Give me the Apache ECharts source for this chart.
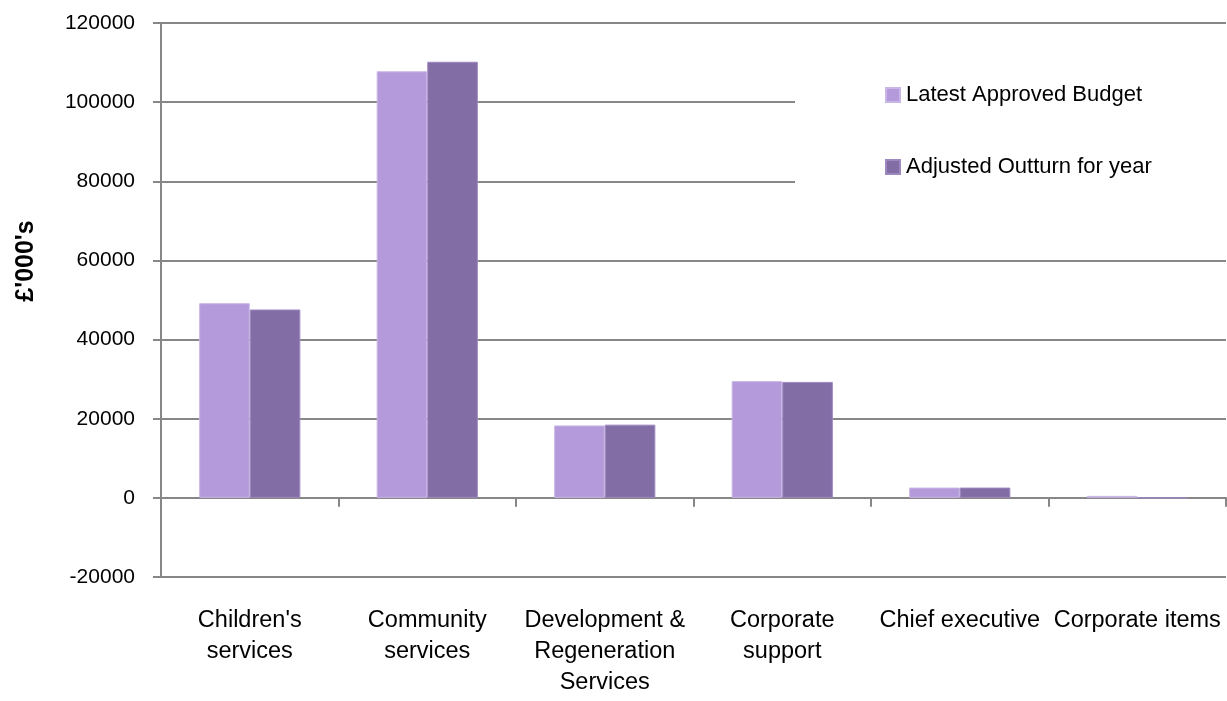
<!DOCTYPE html>
<html>
<head>
<meta charset="utf-8">
<script src="https://cdn.jsdelivr.net/npm/echarts@6/dist/echarts.min.js"></script>
<style>
  html, body { margin: 0; padding: 0; background: #fff; }
  #chart { width: 1227px; height: 701px; }
</style>
</head>
<body>
<div id="chart"></div>
<script>
// Service areas (line breaks as shown under the axis)
const categories = [
  "Children's\nservices",
  "Community\nservices",
  "Development &\nRegeneration\nServices",
  "Corporate\nsupport",
  "Chief executive",
  "Corporate items"
];
const seriesNames = ["Latest Approved Budget", "Adjusted Outturn for year"];
// Values in £'000s
const budgetValues  = [49200, 107800, 18300, 29500, 2600, 500];
const outturnValues = [47600, 110200, 18500, 29300, 2600, 0];
const yTicks = { min: -20000, max: 120000, step: 20000 };

const FONT = "'Liberation Sans', Arial, sans-serif";
const GREY = "#878787";

const chart = echarts.init(document.getElementById("chart"), null, { renderer: "canvas" });
chart.setOption({
  animation: false,
  backgroundColor: "#ffffff",
  textStyle: { fontFamily: FONT, color: "#000" },
  grid: { left: 161, right: 1, top: 23, bottom: 124, containLabel: false, outerBoundsMode: "none" },
  legend: {
    orient: "vertical",
    left: 795,
    top: 60,
    padding: [24, 90, 42, 90],
    backgroundColor: "#ffffff",
    itemWidth: 14,
    itemHeight: 14,
    itemGap: 50,
    icon: "rect",
    selectedMode: false,
    textStyle: { fontFamily: FONT, fontSize: 22, lineHeight: 22, color: "#000", padding: [0, 0, 0, 1] },
    data: seriesNames
  },
  xAxis: {
    type: "category",
    data: categories,
    boundaryGap: true,
    axisLine: { onZero: true, lineStyle: { color: GREY, width: 2 } },
    axisTick: { show: true, length: 9, lineStyle: { color: GREY, width: 2 } },
    axisLabel: {
      interval: 0,
      margin: 28,
      fontFamily: FONT,
      fontSize: 23.5,
      lineHeight: 31,
      color: "#000",
      align: "center"
    },
    splitLine: { show: false }
  },
  yAxis: {
    type: "value",
    min: yTicks.min,
    max: yTicks.max,
    interval: yTicks.step,
    name: "£'000's",
    nameLocation: "middle",
    nameGap: 122,
    nameRotate: 90,
    nameTextStyle: { fontFamily: FONT, fontSize: 25, fontWeight: "bold", color: "#000", padding: [0, 0, 0, 78] },
    axisLine: { show: true, lineStyle: { color: GREY, width: 2 } },
    axisTick: { show: true, length: 8, lineStyle: { color: GREY, width: 2 } },
    axisLabel: {
      margin: 26,
      fontFamily: FONT,
      fontSize: 21,
      color: "#000",
      formatter: v => String(v)
    },
    splitLine: { show: true, lineStyle: { color: GREY, width: 2 } }
  },
  series: [
    {
      name: seriesNames[0],
      type: "bar",
      data: budgetValues,
      barGap: "0%",
      barCategoryGap: "43%",
      itemStyle: { color: "#B49ADB", borderColor: "#C9B6E6", borderWidth: 1 }
    },
    {
      name: seriesNames[1],
      type: "bar",
      data: outturnValues,
      barGap: "0%",
      barCategoryGap: "43%",
      itemStyle: { color: "#836DA5", borderColor: "#9E88C0", borderWidth: 1 }
    }
  ]
});
</script>
</body>
</html>
